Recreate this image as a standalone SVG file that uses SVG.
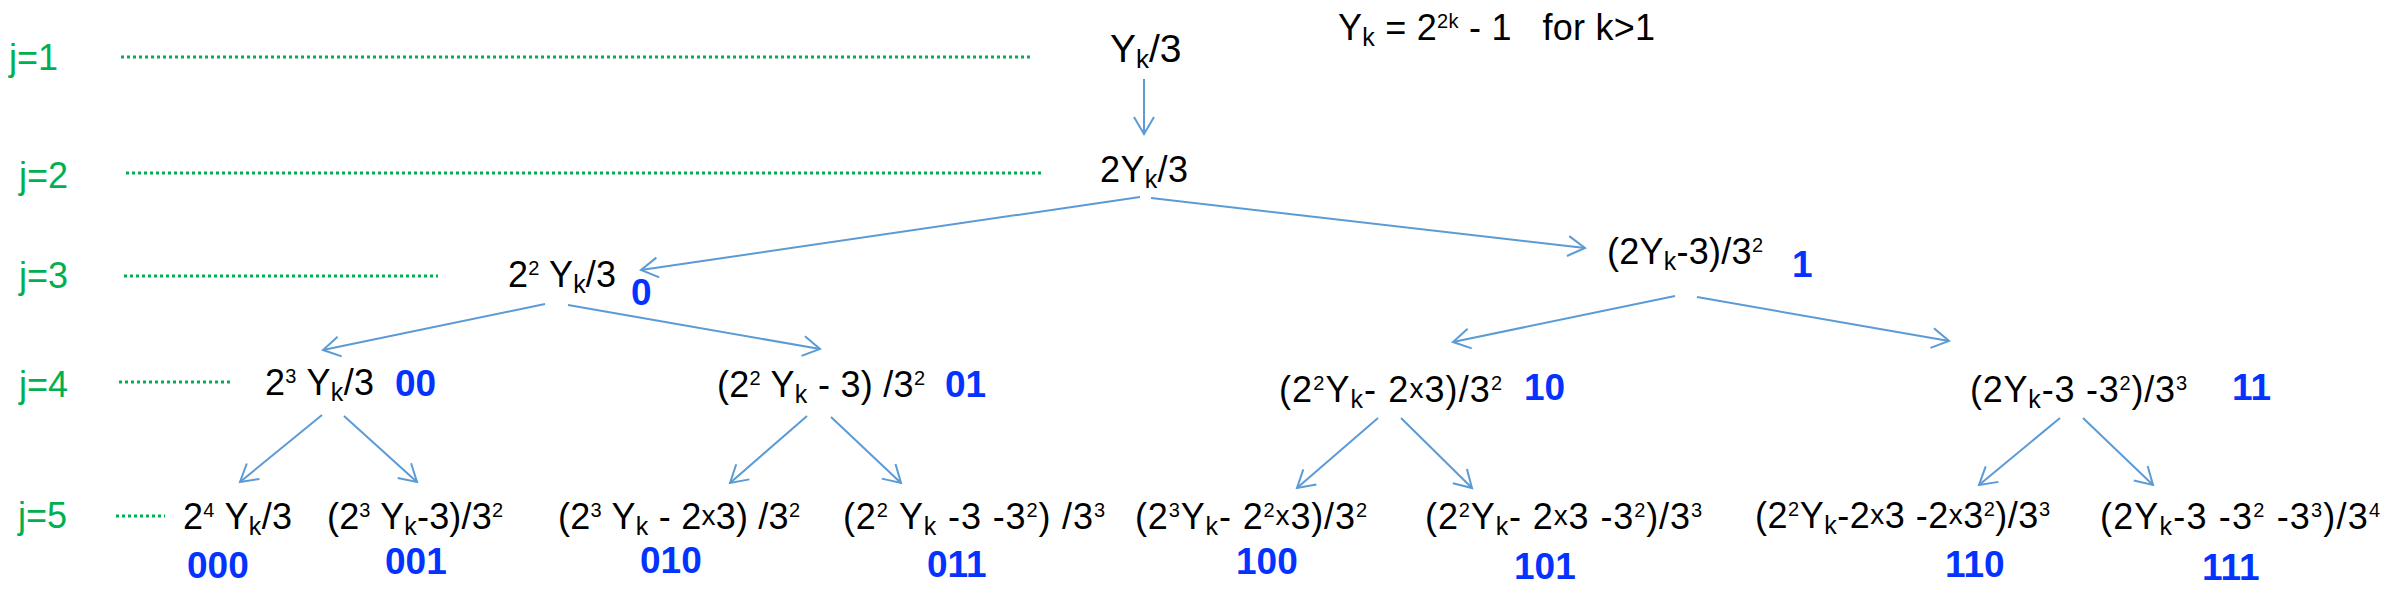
<svg xmlns="http://www.w3.org/2000/svg" width="2386" height="606" viewBox="0 0 2386 606">
<defs>
<marker id="ah" markerUnits="userSpaceOnUse" markerWidth="30" markerHeight="30" viewBox="-22 -15 30 30" refX="0" refY="0" orient="auto">
<path d="M-17,-10 L0,0 L-17,10" fill="none" stroke="#5b9bd5" stroke-width="2"/>
</marker>
<style>
.f{font-family:"Liberation Sans",Arial,Helvetica,sans-serif;font-size:36px;fill:#000}
.b{font-family:"Liberation Sans",Arial,Helvetica,sans-serif;font-size:37px;font-weight:bold;fill:#0433ff}
.g{font-family:"Liberation Sans",Arial,Helvetica,sans-serif;font-size:36px;fill:#00b050}
.sup{font-size:20px}
.sub{font-size:25px}
.x{font-size:28px}
.dot{stroke:#00b050;stroke-width:3;stroke-dasharray:3 3;fill:none}
.c{stroke:#5b9bd5;stroke-width:2;fill:none;marker-end:url(#ah)}
</style>
</defs>
<rect width="2386" height="606" fill="#fff"/>
<g id="levels">
<text class="g" x="9" y="70">j=1</text>
<text class="g" x="19" y="188">j=2</text>
<text class="g" x="19" y="288">j=3</text>
<text class="g" x="19" y="397">j=4</text>
<text class="g" x="18" y="528">j=5</text>
<line class="dot" x1="121" y1="57" x2="1033" y2="57"/>
<line class="dot" x1="126" y1="173" x2="1042" y2="173"/>
<line class="dot" x1="124" y1="276" x2="438" y2="276"/>
<line class="dot" x1="119" y1="382" x2="230" y2="382"/>
<line class="dot" x1="116" y1="516" x2="165" y2="516"/>
</g>
<g id="title">
<text class="f" x="1338" y="40" xml:space="preserve" textLength="317" lengthAdjust="spacing">Y<tspan class="sub" dy="6">k</tspan><tspan dy="-6"> = 2</tspan><tspan class="sup" dy="-12">2k</tspan><tspan dy="12"> - 1   for k&gt;1</tspan></text>
</g>
<g id="connectors">
<line class="c" x1="1144" y1="79" x2="1144" y2="134"/>
<line class="c" x1="1140" y1="197" x2="641" y2="270"/>
<line class="c" x1="1151" y1="198" x2="1585" y2="248"/>
<line class="c" x1="545" y1="304" x2="323" y2="350"/>
<line class="c" x1="568" y1="305" x2="820" y2="349"/>
<line class="c" x1="1675" y1="296" x2="1453" y2="342"/>
<line class="c" x1="1697" y1="297" x2="1949" y2="341"/>
<line class="c" x1="322" y1="415" x2="240" y2="482"/>
<line class="c" x1="344" y1="416" x2="417" y2="482"/>
<line class="c" x1="807" y1="416" x2="730" y2="483"/>
<line class="c" x1="831" y1="417" x2="901" y2="483"/>
<line class="c" x1="1378" y1="418" x2="1297" y2="488"/>
<line class="c" x1="1401" y1="418" x2="1472" y2="488"/>
<line class="c" x1="2060" y1="418" x2="1979" y2="485"/>
<line class="c" x1="2083" y1="418" x2="2153" y2="485"/>
</g>
<g id="n1"><text class="f" x="1110" y="62" style="font-size:39px">Y<tspan class="sub" dy="6" style="font-size:26px">k</tspan><tspan dy="-6">/3</tspan></text></g>
<g id="n2"><text class="f" x="1100" y="182" textLength="88" lengthAdjust="spacing">2Y<tspan class="sub" dy="6">k</tspan><tspan dy="-6">/3</tspan></text></g>
<g id="n3"><text class="f" x="508" y="287" textLength="108" lengthAdjust="spacing">2<tspan class="sup" dy="-12">2</tspan><tspan dy="12"> Y</tspan><tspan class="sub" dy="6">k</tspan><tspan dy="-6">/3</tspan></text>
<text class="b" x="631" y="305">0</text></g>
<g id="n4"><text class="f" x="1607" y="264" textLength="156" lengthAdjust="spacing">(2Y<tspan class="sub" dy="6">k</tspan><tspan dy="-6">-3)/3</tspan><tspan class="sup" dy="-12">2</tspan></text>
<text class="b" x="1792" y="277">1</text></g>
<g id="n5"><text class="f" x="265" y="395" textLength="109" lengthAdjust="spacing">2<tspan class="sup" dy="-12">3</tspan><tspan dy="12"> Y</tspan><tspan class="sub" dy="6">k</tspan><tspan dy="-6">/3</tspan></text>
<text class="b" x="395" y="396">00</text></g>
<g id="n6"><text class="f" x="717" y="397" textLength="208" lengthAdjust="spacing">(2<tspan class="sup" dy="-12">2</tspan><tspan dy="12"> Y</tspan><tspan class="sub" dy="6">k</tspan><tspan dy="-6"> - 3) /3</tspan><tspan class="sup" dy="-12">2</tspan></text>
<text class="b" x="945" y="397">01</text></g>
<g id="n7"><text class="f" x="1279" y="402" textLength="223" lengthAdjust="spacing">(2<tspan class="sup" dy="-12">2</tspan><tspan dy="12">Y</tspan><tspan class="sub" dy="6">k</tspan><tspan dy="-6">- 2</tspan><tspan class="x" dy="-4">x</tspan><tspan dy="4">3)/3</tspan><tspan class="sup" dy="-12">2</tspan></text>
<text class="b" x="1524" y="400">10</text></g>
<g id="n8"><text class="f" x="1970" y="402" textLength="217" lengthAdjust="spacing">(2Y<tspan class="sub" dy="6">k</tspan><tspan dy="-6">-3 -3</tspan><tspan class="sup" dy="-12">2</tspan><tspan dy="12">)/3</tspan><tspan class="sup" dy="-12">3</tspan></text>
<text class="b" x="2232" y="400">11</text></g>
<g id="n9"><text class="f" x="183" y="529" textLength="109" lengthAdjust="spacing">2<tspan class="sup" dy="-12">4</tspan><tspan dy="12"> Y</tspan><tspan class="sub" dy="6">k</tspan><tspan dy="-6">/3</tspan></text>
<text class="b" x="187" y="578">000</text></g>
<g id="n10"><text class="f" x="327" y="529" textLength="176" lengthAdjust="spacing">(2<tspan class="sup" dy="-12">3</tspan><tspan dy="12"> Y</tspan><tspan class="sub" dy="6">k</tspan><tspan dy="-6">-3)/3</tspan><tspan class="sup" dy="-12">2</tspan></text>
<text class="b" x="385" y="574">001</text></g>
<g id="n11"><text class="f" x="558" y="529" textLength="242" lengthAdjust="spacing">(2<tspan class="sup" dy="-12">3</tspan><tspan dy="12"> Y</tspan><tspan class="sub" dy="6">k</tspan><tspan dy="-6"> - 2</tspan><tspan class="x" dy="-4">x</tspan><tspan dy="4">3) /3</tspan><tspan class="sup" dy="-12">2</tspan></text>
<text class="b" x="640" y="573">010</text></g>
<g id="n12"><text class="f" x="843" y="529" textLength="262" lengthAdjust="spacing">(2<tspan class="sup" dy="-12">2</tspan><tspan dy="12"> Y</tspan><tspan class="sub" dy="6">k</tspan><tspan dy="-6"> -3 -3</tspan><tspan class="sup" dy="-12">2</tspan><tspan dy="12">) /3</tspan><tspan class="sup" dy="-12">3</tspan></text>
<text class="b" x="927" y="577">011</text></g>
<g id="n13"><text class="f" x="1135" y="529" textLength="232" lengthAdjust="spacing">(2<tspan class="sup" dy="-12">3</tspan><tspan dy="12">Y</tspan><tspan class="sub" dy="6">k</tspan><tspan dy="-6">- 2</tspan><tspan class="sup" dy="-12">2</tspan><tspan class="x" dy="8">x</tspan><tspan dy="4">3)/3</tspan><tspan class="sup" dy="-12">2</tspan></text>
<text class="b" x="1236" y="574">100</text></g>
<g id="n14"><text class="f" x="1425" y="529" textLength="277" lengthAdjust="spacing">(2<tspan class="sup" dy="-12">2</tspan><tspan dy="12">Y</tspan><tspan class="sub" dy="6">k</tspan><tspan dy="-6">- 2</tspan><tspan class="x" dy="-4">x</tspan><tspan dy="4">3 -3</tspan><tspan class="sup" dy="-12">2</tspan><tspan dy="12">)/3</tspan><tspan class="sup" dy="-12">3</tspan></text>
<text class="b" x="1514" y="579">101</text></g>
<g id="n15"><text class="f" x="1755" y="528" textLength="295" lengthAdjust="spacing">(2<tspan class="sup" dy="-12">2</tspan><tspan dy="12">Y</tspan><tspan class="sub" dy="6">k</tspan><tspan dy="-6">-2</tspan><tspan class="x" dy="-4">x</tspan><tspan dy="4">3 -2</tspan><tspan class="x" dy="-4">x</tspan><tspan dy="4">3</tspan><tspan class="sup" dy="-12">2</tspan><tspan dy="12">)/3</tspan><tspan class="sup" dy="-12">3</tspan></text>
<text class="b" x="1945" y="577">110</text></g>
<g id="n16"><text class="f" x="2100" y="529" textLength="280" lengthAdjust="spacing">(2Y<tspan class="sub" dy="6">k</tspan><tspan dy="-6">-3 -3</tspan><tspan class="sup" dy="-12">2</tspan><tspan dy="12"> -3</tspan><tspan class="sup" dy="-12">3</tspan><tspan dy="12">)/3</tspan><tspan class="sup" dy="-12">4</tspan></text>
<text class="b" x="2202" y="580">111</text></g>
</svg>
